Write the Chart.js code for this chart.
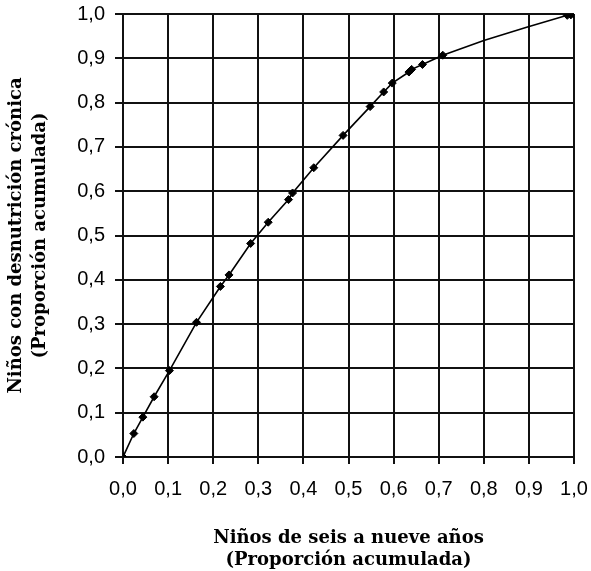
<!DOCTYPE html>
<html lang="es">
<head>
  <meta charset="UTF-8">
  <title>Curva de concentración</title>
  <script src="https://cdn.jsdelivr.net/npm/chart.js"></script>
  <style>
    html, body { margin: 0; padding: 0; background: #fff; }
    #wrap { width: 591px; height: 571px; }
  </style>
</head>
<body>
  <div id="wrap"><canvas id="curveChart"></canvas></div>

  <script>
    // observed points (with markers)
    const pointX = [0.0, 0.024, 0.044, 0.069, 0.103, 0.163, 0.216, 0.235, 0.283, 0.322,
                    0.367, 0.376, 0.423, 0.488, 0.548, 0.578, 0.597, 0.634, 0.640, 0.664,
                    0.709, 0.985, 0.993, 1.0];
    const pointY = [0.0, 0.053, 0.090, 0.136, 0.195, 0.304, 0.385, 0.411, 0.482, 0.530,
                    0.581, 0.596, 0.653, 0.726, 0.791, 0.824, 0.844, 0.869, 0.875, 0.886,
                    0.907, 0.997, 0.998, 1.0];
    // bends of the curve that carry no marker
    const bendX = [0.80, 0.895];
    const bendY = [0.940, 0.970];

    const tickValues = [0, 0.1, 0.2, 0.3, 0.4, 0.5, 0.6, 0.7, 0.8, 0.9, 1.0];

    const marked = pointX.map((x, i) => ({ x: x, y: pointY[i] }));
    const curve = marked.concat(bendX.map((x, i) => ({ x: x, y: bendY[i] })))
      .sort((a, b) => a.x - b.x);

    const fmt = v => v.toFixed(1).replace('.', ',');
    const tickFont = { family: '"Liberation Sans", Arial, sans-serif', size: 20 };

    new Chart(document.getElementById('curveChart'), {
      type: 'scatter',
      data: {
        datasets: [{
          data: curve,
          showLine: true,
          borderColor: '#000',
          borderWidth: 1.6,
          pointRadius: 0,
          order: 2
        }, {
          data: marked,
          showLine: false,
          pointStyle: 'rectRot',
          pointRadius: 4,
          backgroundColor: '#000',
          borderColor: '#000',
          order: 1
        }]
      },
      options: {
        responsive: true,
        maintainAspectRatio: false,
        animation: false,
        layout: { padding: { top: 14, right: 17, left: 0, bottom: 0 } },
        plugins: { legend: { display: false }, tooltip: { enabled: false } },
        scales: {
          x: {
            type: 'linear', min: 0, max: 1,
            afterBuildTicks: s => { s.ticks = tickValues.map(v => ({ value: v })); },
            afterFit: s => { s.height = 114; s.paddingLeft = 0; s.paddingRight = 0; },
            grid: { color: '#111', lineWidth: 2, tickLength: 7 },
            border: { color: '#111', width: 2 },
            ticks: { color: '#000', font: tickFont, padding: 13, maxRotation: 0, callback: fmt },
            title: {
              display: true,
              text: ['Niños de seis a nueve años', '(Proporción acumulada)'],
              color: '#000',
              font: { family: '"DejaVu Serif", serif', size: 18, weight: 'bold', lineHeight: 1.22 },
              padding: { top: 0, bottom: 0 }
            }
          },
          y: {
            type: 'linear', min: 0, max: 1,
            afterBuildTicks: s => { s.ticks = tickValues.map(v => ({ value: v })); },
            afterFit: s => { s.width = 123; s.paddingTop = 0; s.paddingBottom = 0; },
            grid: { color: '#111', lineWidth: 2, tickLength: 8 },
            border: { color: '#111', width: 2 },
            ticks: { color: '#000', font: tickFont, padding: 10, callback: fmt },
            title: {
              display: true,
              text: ['Niños con desnutrición crónica', '(Proporción acumulada)'],
              color: '#000',
              font: { family: '"DejaVu Serif", serif', size: 18, weight: 'bold', lineHeight: 1.35 },
              padding: { top: 4, bottom: 0 }
            }
          }
        }
      }
    });
  </script>
</body>
</html>
